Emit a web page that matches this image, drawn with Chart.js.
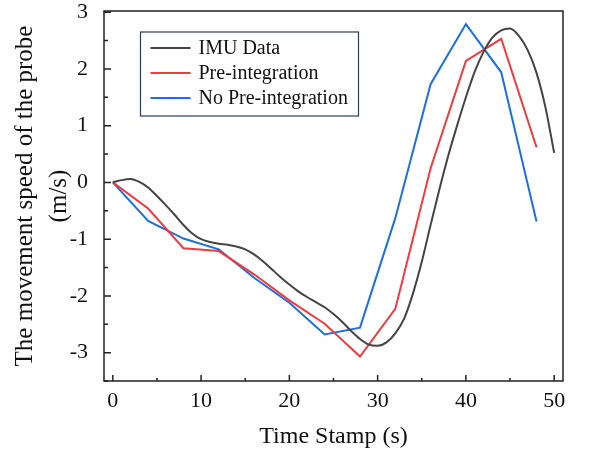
<!DOCTYPE html>
<html>
<head>
<meta charset="utf-8">
<script src="https://cdn.jsdelivr.net/npm/chart.js@4/dist/chart.umd.min.js"></script>
<style>
  html, body { margin: 0; padding: 0; background: #fff; }
  canvas { display: block; }
</style>
</head>
<body>
<canvas id="speed" width="590" height="454"></canvas>
<script>
// time stamps (s)
const imuTime = [0,1,2,3,4,5,6,7,8,9,10,11,12,13,14,15,16,17,18,19,20,21,22,23,24,25,
  26,27,28,29,30,31,32,33,34,35,36,37,38,39,40,41,42,43,44,45,46,47,48,49,50];
const sampleTime = [0,4,8,12,16,20,24,28,32,36,40,44,48];

// speed (m/s)
const imuData = [0,0.04,0.06,0.01,-0.09,-0.24,-0.40,-0.57,-0.75,-0.90,-1.00,-1.05,-1.08,
  -1.10,-1.13,-1.18,-1.27,-1.39,-1.53,-1.67,-1.80,-1.92,-2.02,-2.11,-2.20,-2.32,-2.46,
  -2.62,-2.76,-2.86,-2.88,-2.82,-2.66,-2.40,-1.96,-1.40,-0.75,-0.12,0.47,1.00,1.50,
  1.95,2.30,2.55,2.68,2.71,2.58,2.33,1.93,1.33,0.52];
const preIntegration = [0,-0.46,-1.16,-1.21,-1.62,-2.08,-2.49,-3.07,-2.23,0.25,2.14,2.53,0.62];
const noPreIntegration = [0,-0.68,-0.99,-1.18,-1.68,-2.12,-2.68,-2.56,-0.63,1.73,2.79,1.94,-0.69];

const xTicks = [0,10,20,30,40,50];
const xMinor = [5,15,25,35,45];
const yTicks = [-3,-2,-1,0,1,2,3];
const yMinor = [-3.5,-2.5,-1.5,-0.5,0.5,1.5,2.5];

const serif = "'Liberation Serif', 'DejaVu Serif', serif";

const pairs = (xs, ys) => xs.map((x, i) => ({ x: x, y: ys[i] }));

const frame = {
  id: 'frame',
  afterDatasetsDraw(chart) {
    const { ctx, chartArea: a, scales: { x, y } } = chart;
    ctx.save();
    ctx.strokeStyle = '#222';
    ctx.lineWidth = 1.5;
    ctx.strokeRect(a.left, a.top, a.right - a.left, a.bottom - a.top);
    ctx.beginPath();
    xTicks.forEach(v => { const p = x.getPixelForValue(v); ctx.moveTo(p, a.bottom); ctx.lineTo(p, a.bottom - 6); });
    xMinor.forEach(v => { const p = x.getPixelForValue(v); ctx.moveTo(p, a.bottom); ctx.lineTo(p, a.bottom - 3); });
    yTicks.forEach(v => { const p = y.getPixelForValue(v); ctx.moveTo(a.left, p); ctx.lineTo(a.left + 7, p); });
    yMinor.forEach(v => { const p = y.getPixelForValue(v); ctx.moveTo(a.left, p); ctx.lineTo(a.left + 4, p); });
    ctx.stroke();

    // legend box
    const bx = a.left + 36.5, by = a.top + 21, bw = 218, bh = 84;
    ctx.strokeStyle = '#2e3c5a';
    ctx.lineWidth = 1.2;
    ctx.strokeRect(bx, by, bw, bh);
    ctx.font = '20px ' + serif;
    ctx.textBaseline = 'middle';
    ctx.fillStyle = '#111';
    chart.data.datasets.forEach((ds, i) => {
      const cy = by + 16 + i * 25;
      ctx.strokeStyle = ds.borderColor;
      ctx.lineWidth = 2;
      ctx.beginPath();
      ctx.moveTo(bx + 10, cy);
      ctx.lineTo(bx + 50, cy);
      ctx.stroke();
      ctx.fillText(ds.label, bx + 58, cy + 1);
    });
    ctx.restore();
  }
};

new Chart(document.getElementById('speed'), {
  type: 'line',
  data: {
    datasets: [
      { label: 'IMU Data', data: pairs(imuTime, imuData), borderColor: '#444444', borderWidth: 2, cubicInterpolationMode: 'monotone' },
      { label: 'Pre-integration', data: pairs(sampleTime, preIntegration), borderColor: '#f23a3e', borderWidth: 2, tension: 0 },
      { label: 'No Pre-integration', data: pairs(sampleTime, noPreIntegration), borderColor: '#1c6fe2', borderWidth: 2, tension: 0 }
    ]
  },
  options: {
    responsive: false,
    animation: false,
    layout: { padding: { top: 11, right: 27, left: 0, bottom: 0 } },
    elements: { point: { radius: 0 } },
    plugins: { legend: { display: false }, tooltip: { enabled: false } },
    scales: {
      x: {
        type: 'linear',
        min: -1,
        max: 51,
        afterBuildTicks: s => { s.ticks = xTicks.map(v => ({ value: v })); },
        afterFit: s => { s.height = 73; s.paddingLeft = 0; s.paddingRight = 0; },
        grid: { display: false, drawTicks: false },
        border: { display: false },
        ticks: { color: '#111', padding: 7.5, font: { family: serif, size: 22 }, maxRotation: 0 },
        title: { display: true, text: 'Time Stamp (s)', color: '#111', font: { family: serif, size: 24 }, padding: { top: 0, bottom: 2.6 } }
      },
      y: {
        min: -3.5,
        max: 3.02,
        afterBuildTicks: s => { s.ticks = yTicks.map(v => ({ value: v })); },
        afterFit: s => { s.width = 104; s.paddingTop = 0; s.paddingBottom = 0; },
        grid: { display: false, drawTicks: false },
        border: { display: false },
        ticks: { color: '#111', padding: 16, font: { family: serif, size: 22 } },
        title: {
          display: true,
          text: ['The movement speed of the probe', '(m/s)'],
          color: '#111',
          font: { family: serif, size: 25, lineHeight: 1.36 },
          padding: { top: 8, bottom: 0 }
        }
      }
    }
  },
  plugins: [frame]
});
</script>
</body>
</html>
